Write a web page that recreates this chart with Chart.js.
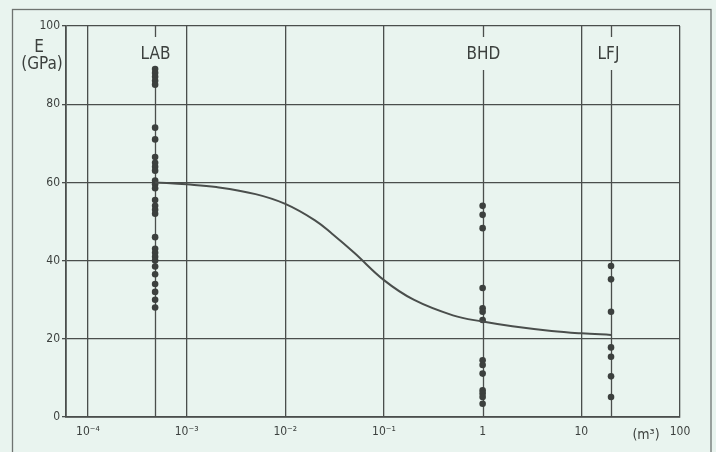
<!DOCTYPE html>
<html>
<head>
<meta charset="utf-8">
<script src="https://cdn.jsdelivr.net/npm/chart.js@4.4.1/dist/chart.umd.min.js"></script>
<style>
  html, body { margin: 0; padding: 0; background: #e9f4ef; }
  #wrap { width: 716px; height: 452px; }
</style>
</head>
<body>
<div id="wrap"><canvas id="myChart"></canvas></div>
<script>
// test sites and their block volume (m3)
const siteNames = ['LAB', 'BHD', 'LFJ']
const siteVolumes = [4.8e-4, 1, 20]

// modulus E (GPa) measured at each site
const labE = [89, 88, 87, 86, 85, 74, 71, 66.5, 65, 64, 63, 60.5, 59.5, 58.5, 55.5, 54, 53, 52, 46, 43, 42, 41, 40, 38.5, 36.5, 34, 32, 30, 28]
const bhdE = [54, 51.7, 48.3, 33, 27.8, 26.9, 24.8, 14.5, 13.3, 11.1, 6.8, 6, 5.1, 3.4]
const lfjE = [38.6, 35.2, 26.9, 17.8, 15.4, 10.4, 5.1]

// fitted scale-effect curve
const curveV = [4.8e-4, 1e-3, 2e-3, 5e-3, 1e-2, 2e-2, 3e-2, 5e-2, 1e-1, 2e-1, 5e-1, 1, 2, 5, 10, 20]
const curveE = [60, 59.5, 58.8, 57.0, 54.5, 50.3, 46.8, 42.0, 35.0, 30.0, 26.0, 24.4, 23.2, 22.0, 21.4, 21.0]

// axis ticks
const xTickValues = [1e-4, 1e-3, 1e-2, 1e-1, 1, 10, 100]
const xTickLabels = ['10\u207B\u2074', '10\u207B\u00B3', '10\u207B\u00B2', '10\u207B\u00B9', '1', '10', '100']
const yTickValues = [0, 20, 40, 60, 80, 100]

const ink = '#3c403e'
const lineInk = '#4a4e4c'
const fontFamily = "'DejaVu Sans Condensed', 'DejaVu Sans', sans-serif"

const dots = (v, arr) => arr.map((e) => ({ x: v, y: e }))

const sketchPlugin = {
  id: 'sketch',
  beforeDraw(chart) {
    const c = chart.ctx
    c.save()
    c.strokeStyle = '#6e7370'
    c.lineWidth = 1.3
    c.strokeRect(12.5, 9.5, 698.5, 470)
    c.restore()
  },
  beforeDatasetsDraw(chart) {
    const c = chart.ctx
    const area = chart.chartArea
    const xs = chart.scales.x
    c.save()
    c.strokeStyle = lineInk
    c.lineWidth = 1.3
    c.fillStyle = ink
    c.font = '17px ' + fontFamily
    c.textAlign = 'center'
    c.textBaseline = 'middle'
    siteVolumes.forEach((v, i) => {
      const px = Math.round(xs.getPixelForValue(v)) + 0.5
      c.beginPath()
      c.moveTo(px, area.top)
      c.lineTo(px, area.top + 11)
      c.moveTo(px, area.top + 44)
      c.lineTo(px, area.bottom)
      c.stroke()
      c.fillText(siteNames[i], px - (i == 2 ? 3 : 0), area.top + 29)
    })
    c.restore()
  },
  afterDraw(chart) {
    const c = chart.ctx
    c.save()
    c.fillStyle = ink
    c.textBaseline = 'middle'
    c.textAlign = 'center'
    c.font = '17px ' + fontFamily
    c.fillText('E', 39, 48)
    c.fillText('(GPa)', 42, 65)
    c.font = '14px ' + fontFamily
    c.fillText('(m\u00B3)', 646, 435)
    c.restore()
  }
}

const ctx = document.getElementById('myChart')

new Chart(ctx, {
  type: 'scatter',
  data: {
    datasets: [
      {
        data: curveV.map((v, i) => ({ x: v, y: curveE[i] })),
        showLine: true,
        pointRadius: 0,
        borderColor: lineInk,
        borderWidth: 2,
        tension: 0.4
      },
      { data: dots(siteVolumes[0], labE), pointRadius: 3.3, backgroundColor: ink, borderWidth: 0 },
      { data: dots(siteVolumes[1], bhdE), pointRadius: 3.3, backgroundColor: ink, borderWidth: 0 },
      { data: dots(siteVolumes[2], lfjE), pointRadius: 3.3, backgroundColor: ink, borderWidth: 0 }
    ]
  },
  options: {
    responsive: true,
    maintainAspectRatio: false,
    animation: false,
    devicePixelRatio: 1,
    layout: { padding: { left: 0, top: 26, right: 36, bottom: 0 } },
    scales: {
      x: {
        type: 'logarithmic',
        min: 6e-5,
        max: 100,
        afterBuildTicks: (s) => {
          s.ticks = xTickValues.map((v) => ({ value: v }))
        },
        afterFit: (s) => {
          s.height = 35
        },
        grid: {
          // site lines are drawn by the plugin (with a gap for the label)
          color: (c) => (c.tick && siteVolumes.includes(c.tick.value) ? 'rgba(0,0,0,0)' : lineInk),
          lineWidth: 1.3,
          drawTicks: false
        },
        border: { display: true, color: lineInk, width: 1.8 },
        ticks: {
          autoSkip: false,
          maxRotation: 0,
          padding: 8,
          color: ink,
          font: { family: fontFamily, size: 12 },
          callback: (value, index) => xTickLabels[index]
        }
      },
      y: {
        min: 0,
        max: 100,
        afterBuildTicks: (s) => {
          s.ticks = yTickValues.map((v) => ({ value: v }))
        },
        afterFit: (s) => {
          s.width = 66
        },
        grid: { color: lineInk, lineWidth: 1.3, tickLength: 4 },
        border: { display: true, color: lineInk, width: 1.8 },
        ticks: {
          padding: 2,
          color: ink,
          font: { family: fontFamily, size: 12 }
        }
      }
    },
    plugins: {
      legend: { display: false },
      tooltip: { enabled: false }
    }
  },
  plugins: [sketchPlugin]
})
</script>
</body>
</html>
